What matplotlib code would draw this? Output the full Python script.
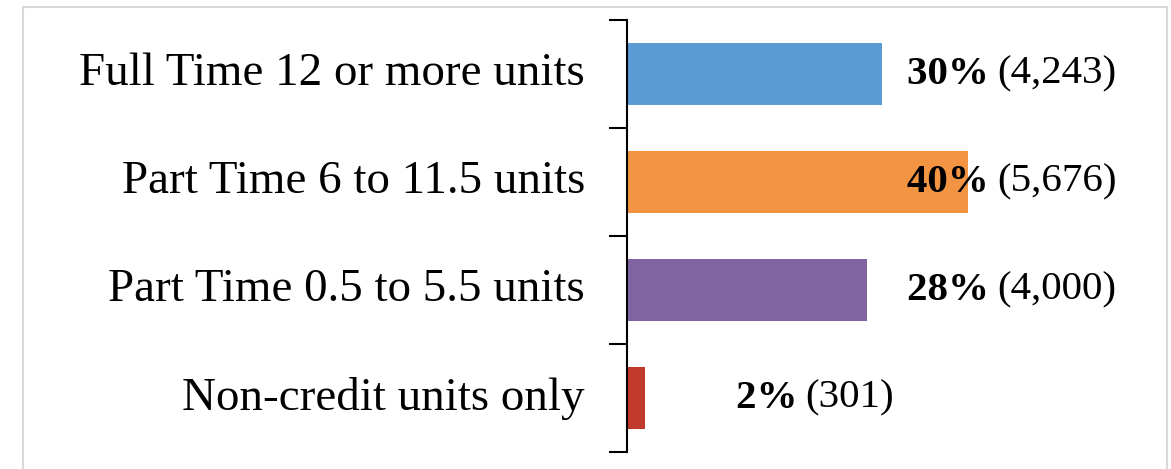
import matplotlib.pyplot as plt
from matplotlib.patches import Rectangle

categories = ['Full Time 12 or more units', 'Part Time 6 to 11.5 units',
              'Part Time 0.5 to 5.5 units', 'Non-credit units only']
counts = [4243, 5676, 4000, 301]
percents = [30, 40, 28, 2]
colors = ['#5B9BD5', '#F39442', '#8064A2', '#C0392B']

plt.rcParams['font.family'] = ['Liberation Serif', 'DejaVu Serif']

fig = plt.figure(figsize=(11.71, 4.69), dpi=100)
ax = fig.add_axes([627 / 1171, 17 / 469, (1167 - 627) / 1171, 432 / 469])

ypos = list(range(len(categories)))
ax.barh(ypos, counts, height=0.575, color=colors)
ax.set_ylim(len(categories) - 0.5, -0.5)
ax.set_xlim(0, 9000)

# tick marks sit between categories, labels centred on bars
ax.set_yticks([i - 0.5 for i in range(len(categories) + 1)])
ax.set_yticklabels([])
ax.tick_params(axis='y', direction='out', length=13, width=1.5, color='black')
for y, name in zip(ypos, categories):
    ax.text(-700, y, name, ha='right', va='center', fontsize=33.8)

for y, c, p in zip(ypos, counts, percents):
    x0 = 4670 if p > 5 else 1820
    t = ax.text(x0, y, f'{p}% ', ha='left', va='center', fontsize=29.5, fontweight='bold')
    fig.canvas.draw()
    bb = t.get_window_extent().transformed(ax.transData.inverted())
    ax.text(bb.x1 - 40, y, f'({c:,})', ha='left', va='center', fontsize=29.5)

for s in ['top', 'right', 'bottom']:
    ax.spines[s].set_visible(False)
ax.spines['left'].set_linewidth(1.5)
ax.set_xticks([])

fig.patches.append(Rectangle((23 / 1171, -0.05), (1167 - 23) / 1171, 1.05 - 7 / 469,
                             transform=fig.transFigure, fill=False,
                             edgecolor='#d9d9d9', linewidth=1.5))

fig.savefig('out.png', dpi=100)
